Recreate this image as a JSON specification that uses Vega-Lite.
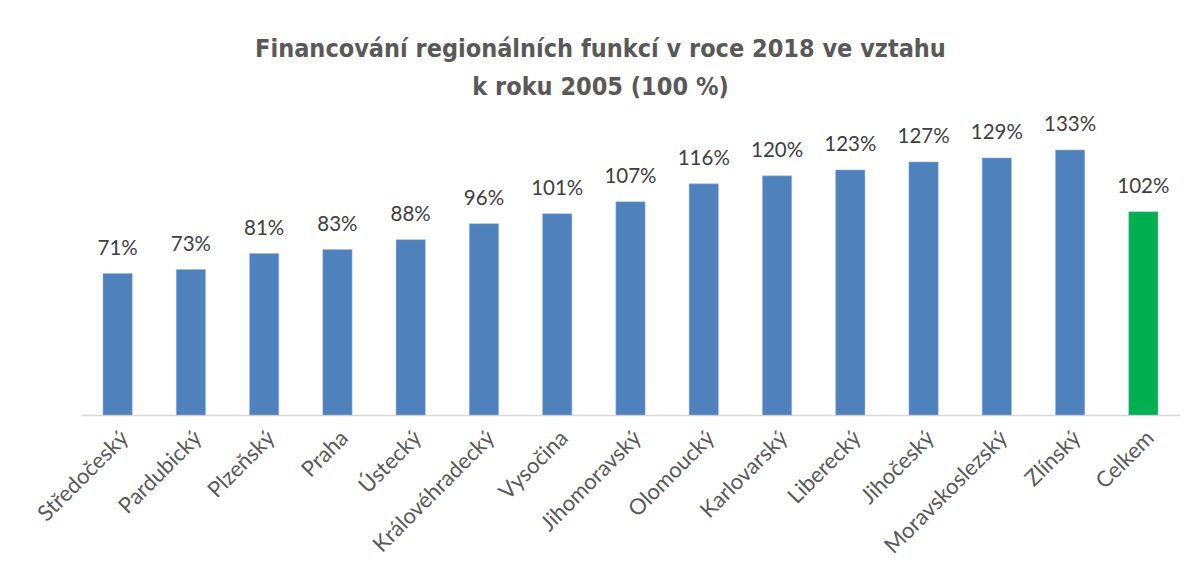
{
  "$schema": "https://vega.github.io/schema/vega-lite/v6.json",
  "autosize": "none",
  "width": 1099,
  "height": 279,
  "padding": {"left": 81, "top": 136, "right": 16, "bottom": 163},
  "background": "white",
  "title": {
    "text": ["Financování regionálních funkcí v roce 2018 ve vztahu", "k roku 2005 (100 %)"],
    "font": "DejaVu Sans Condensed, Liberation Sans, sans-serif",
    "fontWeight": "bold",
    "fontSize": 25,
    "lineHeight": 38,
    "color": "#595959",
    "anchor": "middle",
    "dx": -30,
    "offset": 15
  },
  "data": {
    "values": [
      {"kraj": "Středočeský", "podil": 0.71, "typ": "kraj"},
      {"kraj": "Pardubický", "podil": 0.73, "typ": "kraj"},
      {"kraj": "Plzeňský", "podil": 0.81, "typ": "kraj"},
      {"kraj": "Praha", "podil": 0.83, "typ": "kraj"},
      {"kraj": "Ústecký", "podil": 0.88, "typ": "kraj"},
      {"kraj": "Královéhradecký", "podil": 0.96, "typ": "kraj"},
      {"kraj": "Vysočina", "podil": 1.01, "typ": "kraj"},
      {"kraj": "Jihomoravský", "podil": 1.07, "typ": "kraj"},
      {"kraj": "Olomoucký", "podil": 1.16, "typ": "kraj"},
      {"kraj": "Karlovarský", "podil": 1.20, "typ": "kraj"},
      {"kraj": "Liberecký", "podil": 1.23, "typ": "kraj"},
      {"kraj": "Jihočeský", "podil": 1.27, "typ": "kraj"},
      {"kraj": "Moravskoslezský", "podil": 1.29, "typ": "kraj"},
      {"kraj": "Zlínský", "podil": 1.33, "typ": "kraj"},
      {"kraj": "Celkem", "podil": 1.02, "typ": "celkem"}
    ]
  },
  "encoding": {
    "x": {
      "field": "kraj",
      "type": "nominal",
      "sort": null,
      "scale": {"paddingInner": 0.6, "paddingOuter": 0.3},
      "axis": {
        "title": null,
        "labelAngle": -45,
        "labelAlign": "right",
        "labelBaseline": "top",
        "labelFont": "Lato",
        "labelFontSize": 22,
        "labelColor": "#595959",
        "labelPadding": 12,
        "ticks": false,
        "domainColor": "#D9D9D9",
        "domainWidth": 1.5
      }
    },
    "y": {
      "field": "podil",
      "type": "quantitative",
      "scale": {"domain": [0, 1.4], "nice": false},
      "axis": null
    }
  },
  "layer": [
    {
      "mark": {"type": "bar", "stroke": "#9DB8DC", "strokeWidth": 0.5},
      "encoding": {
        "color": {
          "field": "typ",
          "type": "nominal",
          "scale": {"domain": ["kraj", "celkem"], "range": ["#4F81BD", "#00B050"]},
          "legend": null
        }
      }
    },
    {
      "mark": {"type": "text", "dy": -25, "font": "Lato", "fontSize": 20.5, "color": "#404040"},
      "encoding": {
        "text": {"field": "podil", "type": "quantitative", "format": ".0%"}
      }
    }
  ],
  "config": {"view": {"stroke": null}}
}
